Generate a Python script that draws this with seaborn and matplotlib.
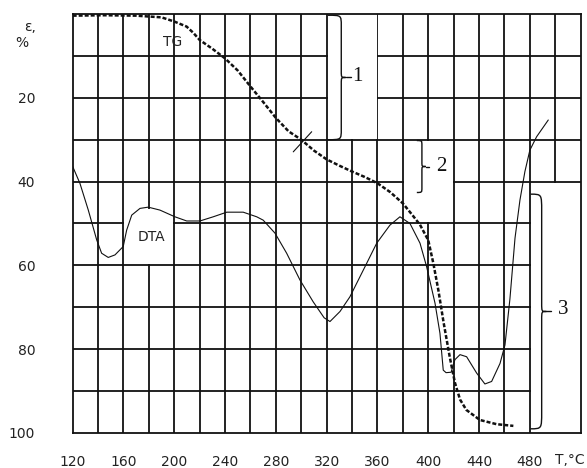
import numpy as np
import pandas as pd
import seaborn as sns
import matplotlib.pyplot as plt
from matplotlib.path import Path
from matplotlib.patches import PathPatch, Rectangle

# DTA curve (thin solid): temperature, deflection
dta_t = [120, 125.7, 132.3, 138.9, 142.8, 148, 153.3, 159.8, 162.5, 166.5,
         173, 179.5, 188.7, 200.5, 209.8, 220.2, 230.7, 241.3, 254.3, 264.9,
         270, 279.3, 288.5, 299, 309.4, 318, 322.6, 330.5, 338.3, 350.2,
         359.4, 369.8, 377.7, 385.6, 393.5, 398.7, 405.3, 409.2, 411.8, 414,
         418, 421, 425, 430.2, 438.1, 444.6, 449.9, 456.5, 460.4, 464.3,
         468.3, 472.2, 476.1, 480, 485.3, 494.5]
dta_v = [36.4, 40.4, 46.8, 53.9, 57.1, 58.1, 57.5, 55.5, 51.6, 48.0,
         46.4, 46.1, 46.8, 48.4, 49.4, 49.4, 48.4, 47.3, 47.3, 48.4,
         49.2, 52.3, 57.1, 63.5, 68.7, 72.5, 73.4, 71.0, 67.5, 60.3,
         54.7, 50.4, 48.4, 50.0, 54.7, 60.3, 69.0, 76.2, 85.0, 85.6,
         85.5, 82.5, 81.3, 81.8, 85.7, 88.3, 87.7, 83.4, 79.0, 68.0,
         53.5, 44.4, 37.6, 32.5, 29.3, 25.3]

# TG curve (thick dashed)
tg_t = [120, 145, 170, 190, 200, 209.7, 215, 220, 230, 240, 250, 260, 270,
        280, 290, 300, 310, 320, 330, 340, 350, 360, 370, 380, 387, 393.5,
        400, 404, 408, 412, 417, 421, 425, 430, 440.7, 453.8, 467]
tg_v = [0.4, 0.3, 0.4, 0.8, 1.8, 3.0, 4.5, 6.2, 8.3, 10.6, 13.5, 17.3, 21.0,
        24.8, 28.0, 30.0, 32.6, 34.7, 36.2, 37.6, 38.9, 40.4, 42.5, 45.2, 47.8, 50.3,
        54.0, 59.5, 66.0, 73.5, 82.0, 88.0, 92.0, 94.5, 96.9, 97.9, 98.3]

x_ticks = [120, 160, 200, 240, 280, 320, 360, 400, 440, 480]
y_ticks = [20, 40, 60, 80, 100]

# grid cells left empty in the original (x0, x1, y0, y1)
blank_zones = [(320, 360, 0, 30), (380, 420, 30, 50), (480, 520, 40, 100),
               (160, 200, 46.3, 60)]

ink = "#111111"

sns.set_style("white")
plt.rcParams["font.family"] = ["DejaVu Sans"]

fig = plt.figure(figsize=(5.87, 4.68), dpi=100)
ax = fig.add_axes([0.1238, 0.0748, 0.8654, 0.8953])
ax.set_xlim(120, 520)
ax.set_ylim(100, 0)

# hand drawn style grid
ax.vlines(np.arange(140, 520, 20), 0, 100, color=ink, lw=1.3, zorder=1)
ax.hlines(np.arange(10, 100, 10), 120, 520, color=ink, lw=1.3, zorder=1)
for x0, x1, y0, y1 in blank_zones:
    # keep the inner grid lines on the edges, spines cover the outer ones
    l = x0 + (0.75 if x0 > 120 else -2)
    r = x1 - (0.75 if x1 < 520 else -2)
    t = y0 + (0.25 if y0 > 0 else -1)
    b = y1 - (0.25 if y1 < 100 else -1)
    ax.add_patch(Rectangle((l, t), r - l, b - t, fc="white", ec="none",
                           zorder=1.5, clip_on=True))

dta = pd.DataFrame({"T": dta_t, "v": dta_v})
tg = pd.DataFrame({"T": tg_t, "v": tg_v})
sns.lineplot(data=dta, x="T", y="v", ax=ax, color=ink, lw=0.8, sort=False,
             estimator=None, zorder=3)
sns.lineplot(data=tg, x="T", y="v", ax=ax, color=ink, lw=1.8, sort=False,
             estimator=None, linestyle=(0, (1.6, 0.8)), zorder=3)

# small tangent cross on TG
ax.plot([293.7, 308.2], [32.9, 28.1], color=ink, lw=0.8, zorder=3)


def brace(xl, xm, xt, xd, y0, y1, h_end, h_tip):
    ym = (y0 + y1) / 2
    verts = [(xl, y0), (xm, y0), (xm, y0), (xm, y0 + h_end),
             (xm, ym - h_tip),
             (xm, ym), (xm, ym), (xt, ym),
             (xm, ym), (xm, ym), (xm, ym + h_tip),
             (xm, y1 - h_end),
             (xm, y1), (xm, y1), (xl, y1)]
    codes = [Path.MOVETO, Path.CURVE4, Path.CURVE4, Path.CURVE4,
             Path.LINETO,
             Path.CURVE4, Path.CURVE4, Path.CURVE4,
             Path.CURVE4, Path.CURVE4, Path.CURVE4,
             Path.LINETO,
             Path.CURVE4, Path.CURVE4, Path.CURVE4]
    ax.add_patch(PathPatch(Path(verts, codes), fc="none", ec=ink, lw=1.0, zorder=3))
    ax.plot([xt, xd], [ym, ym], color=ink, lw=1.0, zorder=3)


brace(321, 331.5, 335, 339, 0.3, 30, 2.5, 1.5)
brace(391, 395, 398, 400.5, 30.2, 42.6, 1.2, 1.0)
brace(480.5, 489.3, 493, 497, 43, 99, 4.0, 2.0)

serif = dict(family=["Liberation Serif", "DejaVu Serif"], fontsize=15, color=ink,
             ha="center", va="center")
ax.text(344, 15, "1", **serif)
ax.text(410, 36.4, "2", **serif)
ax.text(506, 70.6, "3", **serif)

ax.text(199, 6.7, "TG", fontsize=10, color="#222", ha="center", va="center", zorder=4)
ax.text(182, 53.3, "DTA", fontsize=10, color="#222", ha="center", va="center", zorder=4)

ax.set_xticks(x_ticks)
ax.set_yticks(y_ticks)
ax.tick_params(axis="both", length=0, labelsize=10, labelcolor="#222")
ax.tick_params(axis="x", pad=16)
ax.tick_params(axis="y", pad=27)
ax.set_xlabel("")
ax.set_ylabel("")
for s in ax.spines.values():
    s.set_visible(True)
    s.set_color(ink)
    s.set_linewidth(1.3)
    s.set_zorder(2.5)

fig.text(30 / 587, 1 - 27 / 468, "ε,", fontsize=10, color="#222", ha="center", va="center")
fig.text(22 / 587, 1 - 43 / 468, "%", fontsize=10, color="#222", ha="center", va="center")
fig.text(570 / 587, 1 - 460 / 468, "T,°C", fontsize=10, color="#222", ha="center", va="center")

fig.savefig("out.png", dpi=100)
